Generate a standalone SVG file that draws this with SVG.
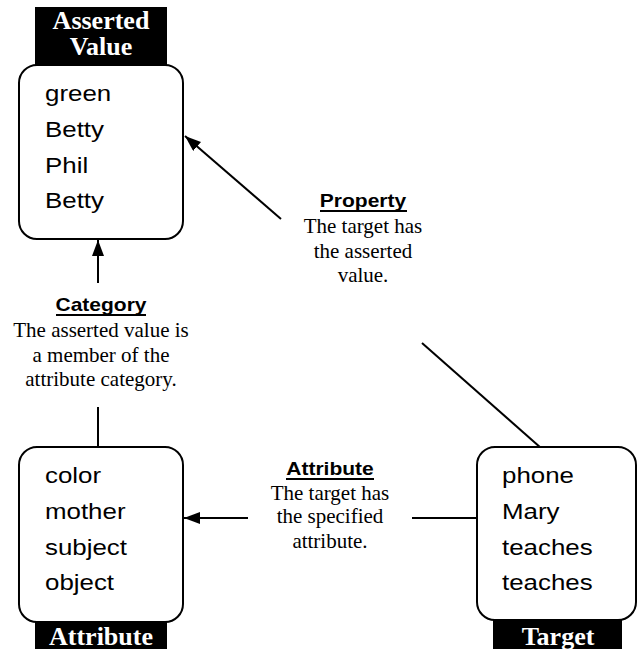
<svg xmlns="http://www.w3.org/2000/svg" width="637" height="649" viewBox="0 0 637 649">
<style>
.box{fill:#fff;stroke:#000;stroke-width:2}
.tag{fill:#000}
.tagt{font-family:"Liberation Serif",serif;font-weight:bold;font-size:26px;fill:#fff;text-anchor:middle}
.item{font-family:"Liberation Sans",Arial,sans-serif;font-size:22.5px;fill:#000}
.lt{font-family:"Liberation Sans",Arial,sans-serif;font-weight:bold;font-size:17.5px;fill:#000;text-anchor:middle}
.ld{font-family:"Liberation Serif",serif;font-size:21px;fill:#000;text-anchor:middle}
.ln{stroke:#000;stroke-width:2;fill:none}
.ul{stroke:#000;stroke-width:2}
</style>
<defs>
<marker id="ahb" markerWidth="16" markerHeight="12" viewBox="0 0 16 12" refX="16" refY="6" orient="auto" markerUnits="userSpaceOnUse">
<path d="M0,0 L16,6 L0,12 z" fill="#000"/>
</marker>
</defs>

<g id="connectors">
<line class="ln" x1="98" y1="283" x2="98" y2="240" marker-end="url(#ahb)"/>
<line class="ln" x1="98" y1="407" x2="98" y2="447"/>
<line class="ln" x1="248" y1="518" x2="184" y2="518" marker-end="url(#ahb)"/>
<line class="ln" x1="412" y1="518" x2="477" y2="518"/>
<line class="ln" x1="281" y1="219" x2="185" y2="136" marker-end="url(#ahb)"/>
<line class="ln" x1="422" y1="343" x2="541" y2="448"/>
</g>

<g id="asserted-value">
<rect class="tag" x="35" y="7" width="132" height="58"/>
<text class="tagt" x="101" y="29">Asserted</text>
<text class="tagt" x="101" y="55">Value</text>
<rect class="box" x="19" y="65" width="164" height="174" rx="18" ry="18"/>
<text class="item" transform="translate(45,101) scale(1.15,1)">green</text>
<text class="item" transform="translate(45,137) scale(1.15,1)">Betty</text>
<text class="item" transform="translate(45,173) scale(1.15,1)">Phil</text>
<text class="item" transform="translate(45,208) scale(1.15,1)">Betty</text>
</g>

<g id="attribute">
<rect class="box" x="19" y="447" width="164" height="175" rx="18" ry="18"/>
<rect class="tag" x="35" y="622" width="132" height="27"/>
<text class="tagt" x="101" y="645">Attribute</text>
<text class="item" transform="translate(45,483) scale(1.15,1)">color</text>
<text class="item" transform="translate(45,519) scale(1.15,1)">mother</text>
<text class="item" transform="translate(45,555) scale(1.15,1)">subject</text>
<text class="item" transform="translate(45,590) scale(1.15,1)">object</text>
</g>

<g id="target">
<rect class="box" x="477" y="447" width="159" height="173" rx="18" ry="18"/>
<rect class="tag" x="493" y="620" width="129" height="29"/>
<text class="tagt" x="558" y="645">Target</text>
<text class="item" transform="translate(502,483) scale(1.15,1)">phone</text>
<text class="item" transform="translate(502,519) scale(1.15,1)">Mary</text>
<text class="item" transform="translate(502,555) scale(1.15,1)">teaches</text>
<text class="item" transform="translate(502,590) scale(1.15,1)">teaches</text>
</g>

<g id="category-label">
<text class="lt" transform="translate(101,311) scale(1.2,1)">Category</text>
<line class="ul" x1="56" y1="315" x2="146" y2="315"/>
<text class="ld" x="101" y="337">The asserted value is</text>
<text class="ld" x="101" y="362">a member of the</text>
<text class="ld" x="101" y="386">attribute category.</text>
</g>

<g id="property-label">
<text class="lt" transform="translate(363,207) scale(1.2,1)">Property</text>
<line class="ul" x1="320" y1="211" x2="407" y2="211"/>
<text class="ld" x="363" y="233">The target has</text>
<text class="ld" x="363" y="258">the asserted</text>
<text class="ld" x="363" y="282">value.</text>
</g>

<g id="attribute-label">
<text class="lt" transform="translate(330,475) scale(1.2,1)">Attribute</text>
<line class="ul" x1="286" y1="479" x2="374" y2="479"/>
<text class="ld" x="330" y="500">The target has</text>
<text class="ld" x="330" y="523">the specified</text>
<text class="ld" x="330" y="548">attribute.</text>
</g>
</svg>
